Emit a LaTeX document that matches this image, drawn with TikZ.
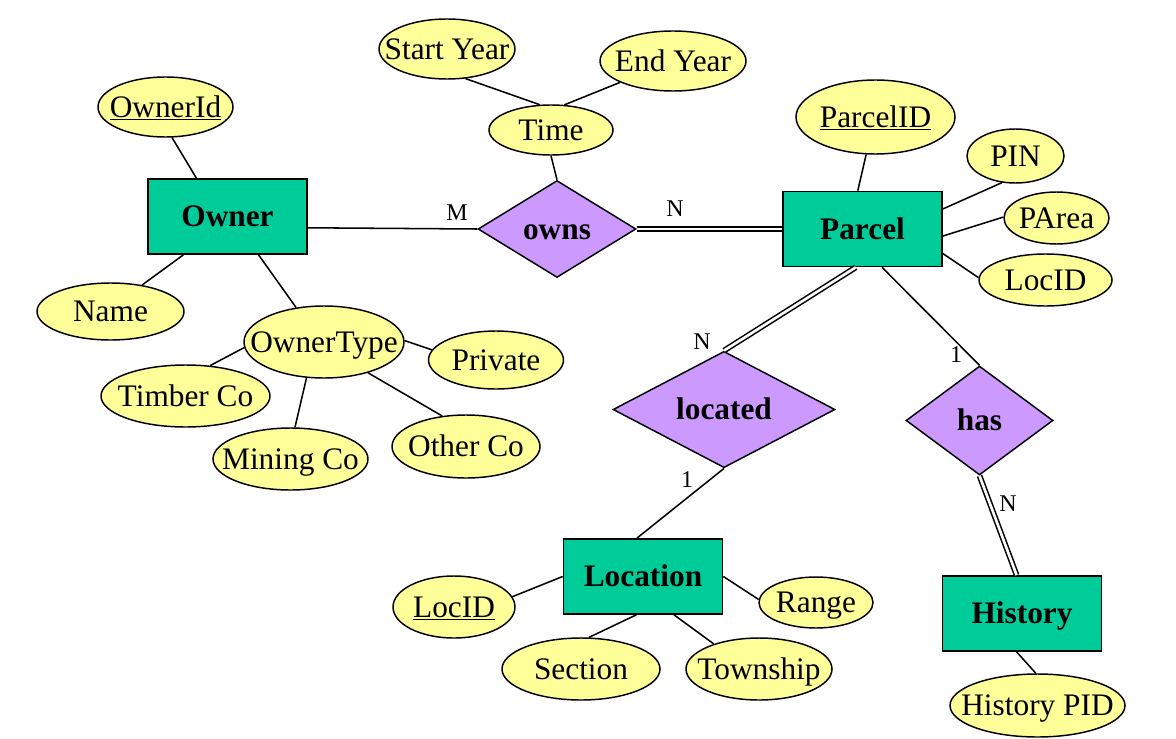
\documentclass[tikz,border=0pt]{standalone}
\usepackage{fontspec}
\setmainfont{Liberation Serif}
\usetikzlibrary{shapes.geometric,calc}
\definecolor{entgreen}{RGB}{0,204,153}
\definecolor{relpurple}{RGB}{204,153,255}
\definecolor{attryellow}{RGB}{255,255,153}
\newcommand\ctext[1]{\makebox[0pt][c]{#1}}
\begin{document}
\begin{tikzpicture}[x=0.75pt,y=-0.75pt,
  txt/.style={text height=15.5pt, text depth=0pt},
  ent/.style={txt, draw, fill=entgreen, line width=1.3pt, minimum width=159*0.75pt, minimum height=75*0.75pt, inner sep=0pt, font=\fontsize{23.5}{28}\selectfont\bfseries},
  rel/.style={txt, diamond, draw, fill=relpurple, line width=1.1pt, inner sep=0pt, font=\fontsize{23.5}{28}\selectfont\bfseries},
  attr/.style={txt, ellipse, draw, fill=attryellow, line width=1.1pt, inner sep=0pt, font=\fontsize{23.5}{28}\selectfont},
  conn/.style={line width=1.15pt},
  dconn/.style={double, double distance=2pt, line width=1.15pt},
  card/.style={font=\fontsize{18}{21}\selectfont, inner sep=0pt}]
\useasboundingbox (0,0) rectangle (1176,738);
% entities
\node[ent] (Owner) at (227.5,216.5) {Owner};
\node[ent] (Parcel) at (862.5,229) {Parcel};
\node[ent] (Location) at (643,576.5) {Location};
\node[ent] (History) at (1022,613.5) {History};
% relationships
\node[rel, minimum width=158*0.75pt, minimum height=97*0.75pt] (owns) at (557,229) {owns};
\node[rel, minimum width=222*0.75pt, minimum height=111*0.75pt] (located) at (724,409.5) {located};
\node[rel, minimum width=147*0.75pt, minimum height=109*0.75pt] (has) at (979.5,420.5) {has};
% attributes
\node[attr, minimum width=135*0.75pt, minimum height=60*0.75pt] (OwnerId) at (165.5,107) {\ctext{\underline{OwnerId}}};
\node[attr, minimum width=147*0.75pt, minimum height=57*0.75pt] (Name) at (110.5,311.5) {\ctext{Name}};
\node[attr, minimum width=160*0.75pt, minimum height=72*0.75pt] (OwnerType) at (324,342) {\ctext{OwnerType}};
\node[attr, minimum width=135*0.75pt, minimum height=58*0.75pt] (Private) at (496,360) {\ctext{Private}};
\node[attr, minimum width=169*0.75pt, minimum height=62*0.75pt] (Timber) at (185.5,396) {\ctext{Timber Co}};
\node[attr, minimum width=155*0.75pt, minimum height=62*0.75pt] (Mining) at (290.5,459) {\ctext{Mining Co}};
\node[attr, minimum width=148*0.75pt, minimum height=63*0.75pt] (Other) at (466,446.5) {\ctext{Other Co}};
\node[attr, minimum width=136*0.75pt, minimum height=60*0.75pt] (Start) at (447,49) {\ctext{Start Year}};
\node[attr, minimum width=124*0.75pt, minimum height=50*0.75pt] (Time) at (551,130) {\ctext{Time}};
\node[attr, minimum width=146*0.75pt, minimum height=60*0.75pt] (End) at (673,61) {\ctext{End Year}};
\node[attr, minimum width=159*0.75pt, minimum height=74*0.75pt] (ParcelID) at (875.5,117) {\ctext{\underline{ParcelID}}};
\node[attr, minimum width=97*0.75pt, minimum height=54*0.75pt] (PIN) at (1015.5,156) {\ctext{PIN}};
\node[attr, minimum width=105*0.75pt, minimum height=52*0.75pt] (PArea) at (1056.5,218) {\ctext{PArea}};
\node[attr, minimum width=133*0.75pt, minimum height=52*0.75pt] (PLocID) at (1045.5,280) {\ctext{LocID}};
\node[attr, minimum width=122*0.75pt, minimum height=62*0.75pt] (LLocID) at (454,607) {\ctext{\underline{LocID}}};
\node[attr, minimum width=158*0.75pt, minimum height=62*0.75pt] (Section) at (581,669) {\ctext{Section}};
\node[attr, minimum width=146*0.75pt, minimum height=62*0.75pt] (Township) at (759,669) {\ctext{Township}};
\node[attr, minimum width=114*0.75pt, minimum height=51*0.75pt] (Range) at (816,602.5) {\ctext{Range}};
\node[attr, minimum width=175*0.75pt, minimum height=63*0.75pt] (HPID) at (1037.5,705.5) {\ctext{History PID}};
% connectors
\draw[conn] (OwnerId.-78) -- (Owner.129);
\draw[conn] (Owner.-139) -- (Name.40);
\draw[conn] (Owner.-51) -- (OwnerType.129);
\draw[conn] (Owner.-8.9) -- (owns.west);
\draw[dconn] (owns.east) -- (Parcel.west);
\draw[conn] (owns.north) -- (Time.south);
\draw[conn] (Start.-58) -- (Time.114);
\draw[conn] (Time.62) -- (End.-158);
\draw[conn] (ParcelID.-104) -- (Parcel.97);
\draw[conn] (Parcel.14.4) -- (PIN.-117);
\draw[conn] (Parcel.-5.6) -- (PArea.179);
\draw[conn] (Parcel.-17.7) -- (PLocID.178);
\draw[dconn] (Parcel.-100) -- (located.north);
\draw[conn] (Parcel.-63) -- (has.north);
\draw[conn] (located.south) -- (Location.99);
\draw[dconn] (has.south) -- (History.98);
\draw[conn] (Location.west) -- (LLocID.10);
\draw[conn] (Location.-100) -- (Section.76);
\draw[conn] (Location.-51) -- (Township.151);
\draw[conn] (Location.east) -- (Range.177);
\draw[conn] (History.-98) -- (HPID.93);
\draw[conn] (OwnerType.184) -- (Timber.51);
\draw[conn] (OwnerType.1) -- (Private.171);
\draw[conn] (OwnerType.-116) -- (Mining.82);
\draw[conn] (OwnerType.-35) -- (Other.128);
% cardinalities
\node[card] (cM) at (457,213) {M};
\node[card] (cN1) at (675,209) {N};
\node[card] (cN2) at (702,342) {N};
\node[card] (c1a) at (956,355) {1};
\node[card] (c1b) at (687,480) {1};
\node[card] (cN3) at (1008,504) {N};
\end{tikzpicture}
\end{document}
